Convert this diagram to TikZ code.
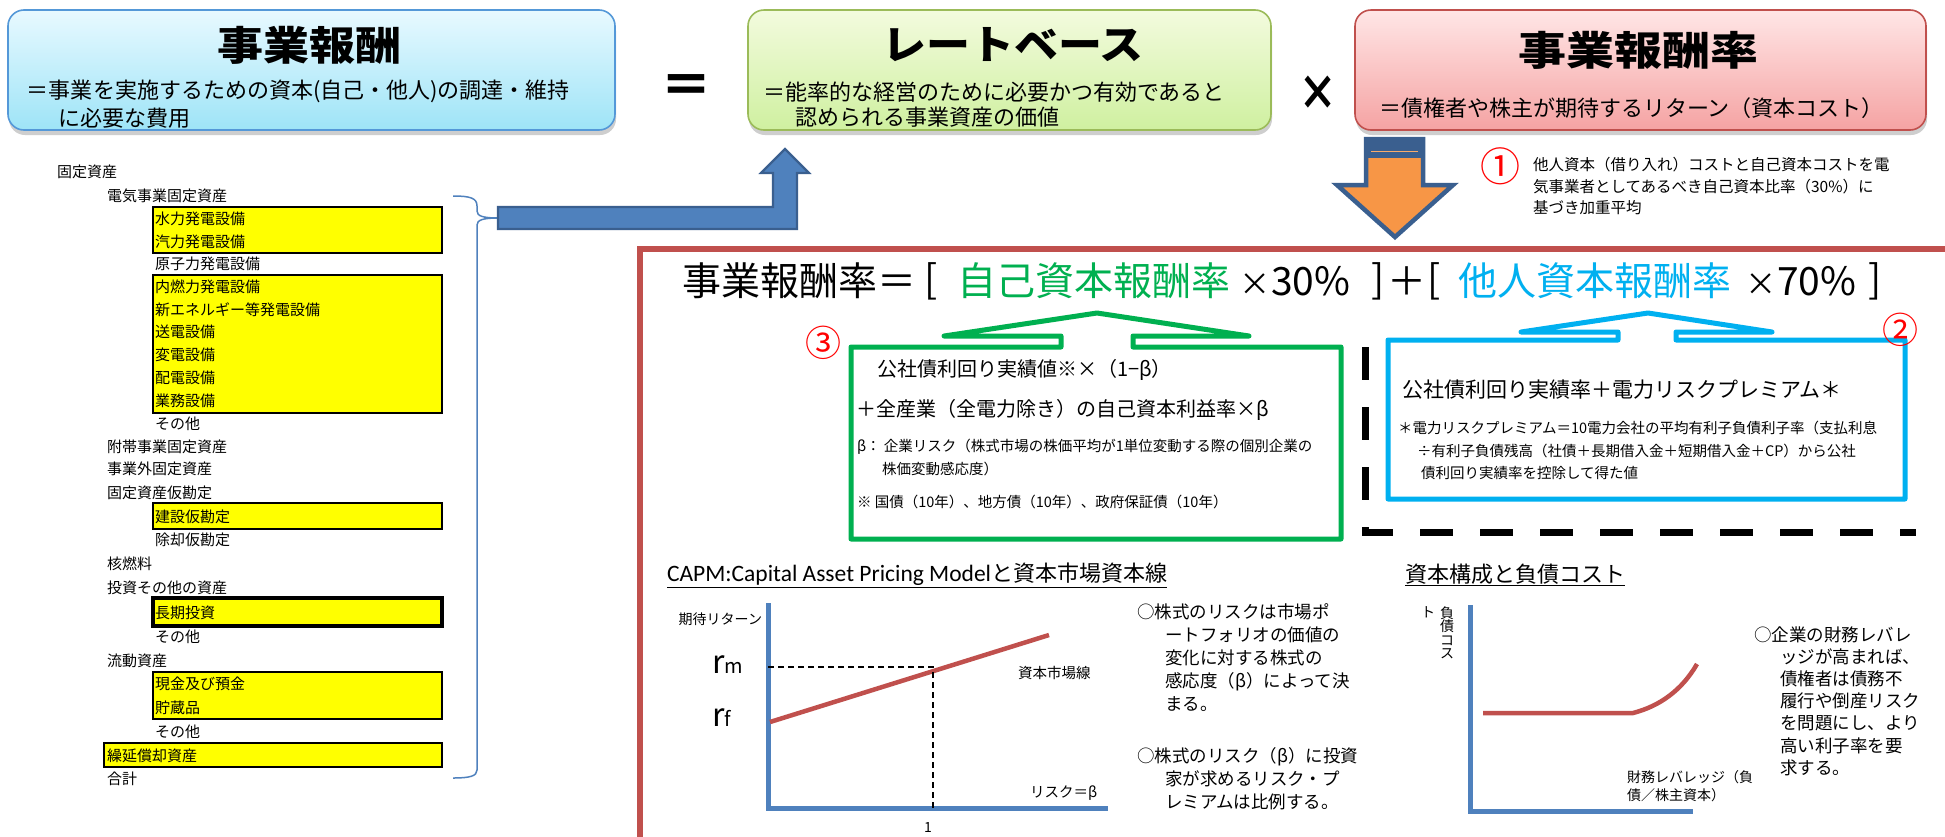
\documentclass[tikz,border=0pt]{standalone}
\usepackage{fontspec}
\setmainfont{Noto Sans CJK JP}
\newfontfamily\calfont{Carlito}
\usetikzlibrary{shadows}
\definecolor{frameRed}{HTML}{C0504D}
\definecolor{ggreen}{HTML}{00B050}
\definecolor{gcyan}{HTML}{00B0F0}
\definecolor{axisBlue}{HTML}{4F81BD}
\definecolor{arrBlue}{HTML}{3A5F8F}
\definecolor{arrOrange}{HTML}{F79646}
\definecolor{ylw}{HTML}{FFFF00}
\newcommand{\fs}[1]{\fontsize{#1}{#1}\selectfont}
\newcommand{\smx}{\scalebox{0.8}{×}}
\tikzset{
  every node/.style={inner sep=0pt, outer sep=0pt},
  topbox/.style={draw, line width=1.6, rounded corners=16, drop shadow={shadow xshift=1pt, shadow yshift=-5pt, opacity=0.35, fill=black!55}},
  boxtitle/.style={font=\fs{40}\bfseries},
  boxsub/.style={font=\fs{22}, anchor=west},
  listitem/.style={font=\fs{15}, anchor=west},
  ybox/.style={fill=ylw, draw=black, line width=2.5},
  formula/.style={font=\fs{39}},
  bodytext/.style={font=\fontsize{17.5}{23}\selectfont, anchor=west, align=left},
  circnum/.style={font=\fs{36}, text=red},
  axis/.style={draw=axisBlue, line width=5},
  redline/.style={draw=frameRed, line width=4.5},
}
\begin{document}
\begin{tikzpicture}[x=1pt,y=-1pt]
\useasboundingbox[fill=white] (0,0) rectangle (1945,836);

% ---------- top boxes ----------
\node[topbox, draw=cyan!60!blue!70, top color={rgb,255:red,232;green,249;blue,255}, bottom color={rgb,255:red,158;green,228;blue,247}, minimum width=607, minimum height=120] (bluebox) at (311.5,70) {};
\node[boxtitle] (bluetitle) at (309,45) {\scalebox{1.15}[1]{事業報酬}};
\node[boxsub] (bluesub1) at (27,91) {＝事業を実施するための資本(自己・他人)の調達・維持};
\node[boxsub] (bluesub2) at (58,118) {に必要な費用};

\node[font=\fs{52}\bfseries] (eqsign) at (686,90) {＝};

\node[topbox, draw={rgb,255:red,155;green,187;blue,89}, top color={rgb,255:red,243;green,251;blue,222}, bottom color={rgb,255:red,207;green,240;blue,160}, minimum width=523, minimum height=120] (greenbox) at (1009.5,70) {};
\node[boxtitle] (greentitle) at (1013,45) {\scalebox{1.1}[1]{レートベース}};
\node[boxsub] (greensub1) at (763,92) {＝能率的な経営のために必要かつ有効であると};
\node[boxsub] (greensub2) at (795,117) {認められる事業資産の価値};

\node[font=\fs{46}\bfseries] (timessign) at (1318,93) {\scalebox{0.85}[1.05]{×}};

\node[topbox, draw=frameRed, top color={rgb,255:red,255;green,230;blue,230}, bottom color={rgb,255:red,245;green,163;blue,163}, minimum width=571, minimum height=120] (redbox) at (1640.5,70) {};
\node[boxtitle] (redtitle) at (1638,50) {\scalebox{1.2}[1]{事業報酬率}};
\node[boxsub] (redsub) at (1379,108) {＝債権者や株主が期待するリターン（資本コスト）};

% ---------- left list ----------
\draw[ybox] (153,207) rectangle (442,253);
\draw[ybox] (153,275) rectangle (442,413);
\draw[ybox] (153,503) rectangle (442,529);
\draw[ybox, line width=3.5] (153,598) rectangle (442,626);
\draw[ybox] (153,672) rectangle (442,719);
\draw[ybox] (104,743) rectangle (442,767);

\foreach \n/\x/\y/\t in {
  a/57/172/固定資産,
  b/107/196/電気事業固定資産,
  c/155/219/水力発電設備,
  d/155/242/汽力発電設備,
  e/155/264/原子力発電設備,
  f/155/287/内燃力発電設備,
  g/155/310/新エネルギー等発電設備,
  h/155/332/送電設備,
  i/155/355/変電設備,
  j/155/378/配電設備,
  k/155/401/業務設備,
  l/155/424/その他,
  m/107/447/附帯事業固定資産,
  n/107/469/事業外固定資産,
  o/107/493/固定資産仮勘定,
  p/155/517/建設仮勘定,
  q/155/540/除却仮勘定,
  r/107/564/核燃料,
  s/107/588/投資その他の資産,
  t/155/613/長期投資,
  u/155/637/その他,
  v/107/661/流動資産,
  w/155/684/現金及び預金,
  x/155/708/貯蔵品,
  y/155/732/その他,
  z/107/756/繰延償却資産,
  zz/107/779/合計}
  {\node[listitem] (list\n) at (\x,\y) {\t};}

% brace
\coordinate (bracetip) at (498,218);
\draw[axisBlue, line width=1.5] (453,196) .. controls (470,196) and (477,198) .. (477,206) -- (477,211) .. controls (477,216) and (483,218) .. (bracetip)
  .. controls (483,218) and (477,220) .. (477,225) -- (477,770) .. controls (477,776) and (470,778) .. (453,778);

% big blue arrow to rate base
\draw[fill=axisBlue, draw=arrBlue, line width=2.2, line join=miter] (bracetip |- 0,207) -- (773,207) -- (773,173) -- (761,173) -- (785,149) -- (809,173) -- (797,173) -- (797,229) -- (bracetip |- 0,229) -- cycle;

% orange down arrow
\draw[fill=arrOrange, draw=arrBlue, line width=4.5, line join=miter] (1366,139) -- (1423,139) -- (1423,185) -- (1453,185) -- (1395,237) -- (1337,185) -- (1366,185) -- cycle;
\fill[arrBlue] (1366,139) rectangle (1423,158);
\draw[arrOrange!80!white, line width=0.8] (1371,151) -- (1418,151);

\node[circnum, font=\fs{40}] (c1) at (1500,166) {①};
\node[font=\fontsize{15.5}{21.5}\selectfont, anchor=west, align=left] (c1text) at (1533,186.5) {他人資本（借り入れ）コストと自己資本コストを電\\気事業者としてあるべき自己資本比率（30\%）に\\基づき加重平均};

% ---------- red frame ----------
\draw[frameRed, line width=6.5, line join=miter] (640,840) -- (640,249) -- (1950,249);

% formula
\node[formula, anchor=west] (f1) at (682,281) {事業報酬率＝};
\node[formula] (f2) at (931,281) {[};
\node[formula, anchor=west, text=ggreen] (f3) at (957,281) {自己資本報酬率};
\node[formula] (f4) at (1295,281) {\smx30\%};
\node[formula] (f5) at (1378,281) {]};
\node[formula] (f6) at (1407,281) {＋};
\node[formula] (f7) at (1434,281) {[};
\node[formula, anchor=west, text=gcyan] (f8) at (1458,281) {他人資本報酬率};
\node[formula] (f9) at (1801,281) {\smx70\%};
\node[formula] (f10) at (1875,281) {]};

% green box with arrow
\draw[ggreen, line width=5, line join=round, line cap=round] (1061,347) -- (1061,336) -- (944,336) -- (1097,313) -- (1249,336) -- (1133,336) -- (1133,347) -- (1341,347) -- (1341,539) -- (851,539) -- (851,347) -- cycle;
\node[circnum] (c3) at (823,343) {③};
\node[font=\fs{20}, anchor=west] (g1) at (877,370) {公社債利回り実績値※×（1−β）};
\node[font=\fs{20}, anchor=west] (g2) at (856,410) {＋全産業（全電力除き）の自己資本利益率×β};
\node[font=\fs{14.5}, anchor=west] (g3) at (857,447) {β： 企業リスク（株式市場の株価平均が1単位変動する際の個別企業の};
\node[font=\fs{14.5}, anchor=west] (g4) at (882,469) {株価変動感応度）};
\node[font=\fs{14.5}, anchor=west] (g5) at (857,502) {※ 国債（10年）、地方債（10年）、政府保証債（10年）};

% blue box with arrow
\draw[gcyan, line width=5, line join=round, line cap=round] (1618,340) -- (1618,332) -- (1521,332) -- (1648,313) -- (1772,332) -- (1676,332) -- (1676,340) -- (1905,340) -- (1905,499) -- (1388,499) -- (1388,340) -- cycle;
\node[circnum] (c2) at (1900,330) {②};
\node[font=\fs{21}, anchor=west] (b1) at (1402,390) {公社債利回り実績率＋電力リスクプレミアム＊};
\node[font=\fs{14.5}, anchor=west] (b2) at (1398,428) {＊電力リスクプレミアム＝10電力会社の平均有利子負債利子率（支払利息};
\node[font=\fs{14.5}, anchor=west] (b3) at (1417,451) {÷有利子負債残高（社債＋長期借入金＋短期借入金＋CP）から公社};
\node[font=\fs{14.5}, anchor=west] (b4) at (1421,473) {債利回り実績率を控除して得た値};

% dashed separator
\draw[black, line width=7, dash pattern=on 33 off 27] (1365,347) -- (1365,532) -- (1916,532);

% ---------- CAPM chart ----------
\node[font=\fs{22}, anchor=west] (capmtitle) at (667,575) {\underline{{\calfont\fs{23.5}CAPM:Capital Asset Pricing Model}と資本市場資本線}};
\coordinate (capmO) at (768,808);
\draw[axis] (768,603) -- (capmO) -- (1108,808);
\node[font=\fs{14}, anchor=east] (ylab) at (762,619) {期待リターン};
\node[anchor=west] (rm) at (712,665) {{\fs{32}r}{\fs{20}m}};
\node[anchor=west] (rf) at (712,718) {{\fs{32}r}{\fs{20}f}};
\coordinate (cmlA) at (770,722);
\coordinate (cmlB) at (1049,635);
\draw[redline] (cmlA) -- (cmlB);
\draw[black, line width=1.4, dash pattern=on 6 off 4] (768,667) -- (933,667) -- (933,808);
\node[font=\fs{14.5}, anchor=west] (cmllab) at (1018,673) {資本市場線};
\node[font=\fs{14.5}, anchor=west] (xlab) at (1030,793) {リスク＝β};
\node[font=\fs{14}] (one) at (928,827) {1};

\node[bodytext] (capmnote1) at (1137,657.5) {○株式のリスクは市場ポ\\\hspace*{1.6em}ートフォリオの価値の\\\hspace*{1.6em}変化に対する株式の\\\hspace*{1.6em}感応度（β）によって決\\\hspace*{1.6em}まる。};
\node[bodytext] (capmnote2) at (1137,779) {○株式のリスク（β）に投資\\\hspace*{1.6em}家が求めるリスク・プ\\\hspace*{1.6em}レミアムは比例する。};

% ---------- capital structure chart ----------
\node[font=\fs{22}, anchor=west] (cstitle) at (1405,575) {\underline{資本構成と負債コスト}};
\coordinate (csO) at (1470,811);
\draw[axis] (1470,605) -- (csO) -- (1693,811);
\node[font=\fontsize{14}{13.5}\selectfont, align=center] (cslab1) at (1447,633) {負\\債\\コ\\ス};
\node[font=\fs{14}] (cslab2) at (1428,612) {ト};
\coordinate (csA) at (1483,713);
\coordinate (csB) at (1633,713);
\coordinate (csC) at (1697,664);
\draw[redline] (csA) -- (csB) .. controls (1660,706) and (1682,690) .. (csC);
\node[font=\fontsize{14}{18}\selectfont, anchor=west, align=left] (csxlab) at (1627,786) {財務レバレッジ（負\\債／株主資本）};
\node[bodytext, font=\fontsize{17.5}{22.2}\selectfont] (csnote) at (1754,701) {○企業の財務レバレ\\\hspace*{1.5em}ッジが高まれば、\\\hspace*{1.5em}債権者は債務不\\\hspace*{1.5em}履行や倒産リスク\\\hspace*{1.5em}を問題にし、より\\\hspace*{1.5em}高い利子率を要\\\hspace*{1.5em}求する。};
\end{tikzpicture}
\end{document}
